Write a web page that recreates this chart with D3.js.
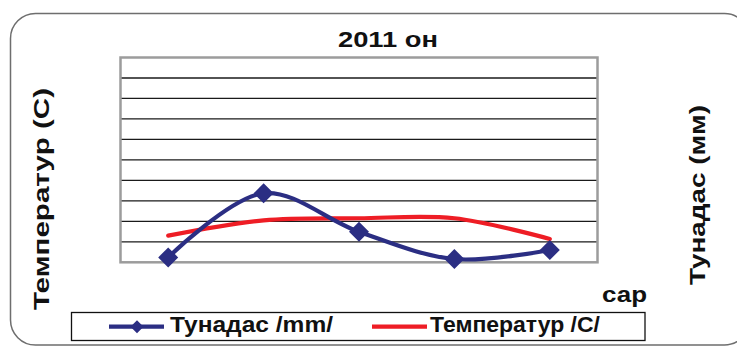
<!DOCTYPE html>
<html>
<head>
<meta charset="utf-8">
<script src="https://cdn.jsdelivr.net/npm/d3@7"></script>
<style>
  html, body { margin: 0; padding: 0; background: #fff; }
  svg { display: block; }
  text { font-family: "Liberation Sans", Arial, sans-serif; font-weight: bold; fill: #111; }
</style>
</head>
<body>
<svg id="chart" width="737" height="348"></svg>
<script>
// Months (May–September) along the x axis
const months = ["5", "6", "7", "8", "9"];
// Precipitation, mm
const precipitation = [2.4, 33.7, 14.9, 1.6, 6.0];
// Air temperature, °C
const temperature = [13.0, 20.5, 21.5, 21.5, 11.4];
// Value axis: 0–100 with a gridline every 10
const yDomain = [0, 100];
const yStep = 10;

const titleText = "2011 он";
const leftTitle = "Температур (С)";
const rightTitle = "Тунадас (мм)";
const xTitle = "сар";
const legendPrecip = "Тунадас /mm/";
const legendTemp = "Температур /С/";

const svg = d3.select("#chart");
const W = 737, H = 348;
const plot = { left: 120.5, right: 597.5, top: 57.5, bottom: 262.3 };

// Rounded outer frame (extends past the right edge of the canvas)
svg.append("rect")
  .attr("x", 10.5).attr("y", 13.5)
  .attr("width", 739).attr("height", 331.5)
  .attr("rx", 25).attr("ry", 25)
  .attr("fill", "#fff")
  .attr("stroke", "#6e6e6e").attr("stroke-width", 1.5);

const x = d3.scaleBand().domain(months).range([plot.left, plot.right]);
const y = d3.scaleLinear().domain(yDomain).range([plot.bottom, plot.top]);
const cx = d => x(d) + x.bandwidth() / 2;

// Horizontal gridlines
const gridVals = d3.range(yDomain[0] + yStep, yDomain[1], yStep);
svg.append("g").selectAll("line").data(gridVals).join("line")
  .attr("x1", plot.left).attr("x2", plot.right)
  .attr("y1", d => y(d)).attr("y2", d => y(d))
  .attr("stroke", "#1a1a1a").attr("stroke-width", 1.3);

// Plot area frame
svg.append("rect")
  .attr("x", plot.left).attr("y", y(yDomain[1]))
  .attr("width", plot.right - plot.left)
  .attr("height", y(yDomain[0]) - y(yDomain[1]))
  .attr("fill", "none")
  .attr("stroke", "#9c9c9c").attr("stroke-width", 2.5);

// Series lines
const line = d3.line().curve(d3.curveCatmullRom.alpha(0.5));
const tempPts = months.map((m, i) => [cx(m), y(temperature[i])]);
const precPts = months.map((m, i) => [cx(m), y(precipitation[i])]);

svg.append("path").attr("d", line(tempPts))
  .attr("fill", "none").attr("stroke", "#ee1d25").attr("stroke-width", 4.2)
  .attr("stroke-linecap", "round");

svg.append("path").attr("d", line(precPts))
  .attr("fill", "none").attr("stroke", "#2b2e83").attr("stroke-width", 4.2)
  .attr("stroke-linejoin", "round");

function diamond(px, py, r) {
  return `M${px},${py - r}L${px + r},${py}L${px},${py + r}L${px - r},${py}Z`;
}
svg.append("g").selectAll("path").data(precPts).join("path")
  .attr("d", d => diamond(d[0], d[1], 10))
  .attr("fill", "#2b2e83");

// Titles
svg.append("text").text(titleText)
  .attr("x", 338).attr("y", 46.7)
  .attr("font-size", 22)
  .attr("textLength", 100).attr("lengthAdjust", "spacingAndGlyphs");

svg.append("text").text(leftTitle)
  .attr("transform", "translate(49,199) rotate(-90)")
  .attr("text-anchor", "middle")
  .attr("font-size", 22)
  .attr("textLength", 222).attr("lengthAdjust", "spacingAndGlyphs");

svg.append("text").text(rightTitle)
  .attr("transform", "translate(705,195) rotate(-90)")
  .attr("text-anchor", "middle")
  .attr("font-size", 22)
  .attr("textLength", 180).attr("lengthAdjust", "spacingAndGlyphs");

svg.append("text").text(xTitle)
  .attr("x", 602).attr("y", 301.7)
  .attr("font-size", 22)
  .attr("textLength", 45).attr("lengthAdjust", "spacingAndGlyphs");

// Legend
const lg = svg.append("g");
lg.append("rect")
  .attr("x", 71.5).attr("y", 312.5).attr("width", 573.5).attr("height", 28)
  .attr("fill", "#fff").attr("stroke", "#111").attr("stroke-width", 1.3);
const ly = 326.7;
lg.append("line").attr("x1", 109).attr("x2", 164).attr("y1", ly).attr("y2", ly)
  .attr("stroke", "#2b2e83").attr("stroke-width", 4.2);
lg.append("path").attr("d", diamond(137, ly, 6.5)).attr("fill", "#2b2e83");
lg.append("text").text(legendPrecip)
  .attr("x", 170).attr("y", 331.8).attr("font-size", 22)
  .attr("textLength", 163).attr("lengthAdjust", "spacingAndGlyphs");
lg.append("line").attr("x1", 372).attr("x2", 427).attr("y1", ly).attr("y2", ly)
  .attr("stroke", "#ee1d25").attr("stroke-width", 4.2);
lg.append("text").text(legendTemp)
  .attr("x", 430).attr("y", 331.8).attr("font-size", 22)
  .attr("textLength", 170).attr("lengthAdjust", "spacingAndGlyphs");
</script>
</body>
</html>
